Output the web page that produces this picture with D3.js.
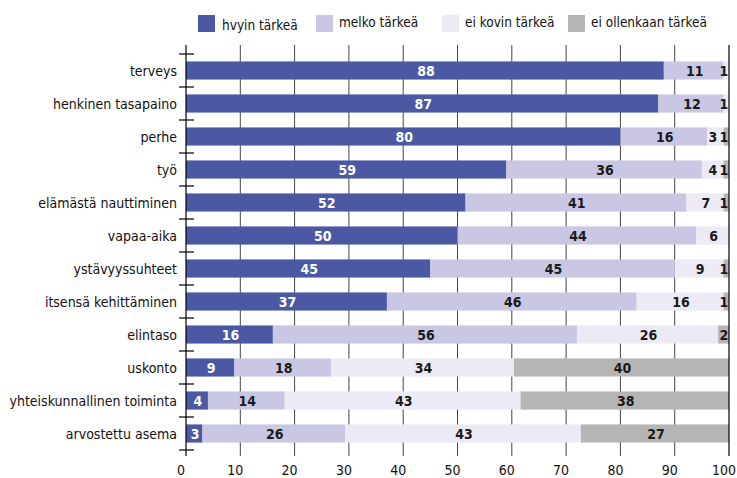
<!DOCTYPE html>
<html>
<head>
<meta charset="utf-8">
<script src="https://cdn.jsdelivr.net/npm/d3@7"></script>
<style>
  body { margin: 0; background: #fff; }
  text { font-family: "Liberation Sans Narrow", "Arial Narrow", "DejaVu Sans Condensed", sans-serif; }
</style>
</head>
<body>
<div id="myChart"></div>
<script>
// data
var categories = ["terveys", "henkinen tasapaino", "perhe", "työ", "elämästä nauttiminen",
  "vapaa-aika", "ystävyyssuhteet", "itsensä kehittäminen", "elintaso", "uskonto",
  "yhteiskunnallinen toiminta", "arvostettu asema"];
var seriesNames = ["hvyin tärkeä", "melko tärkeä", "ei kovin tärkeä", "ei ollenkaan tärkeä"];
var hvyin  = [88, 87, 80, 59, 52, 50, 45, 37, 16, 9, 4, 3];
var melko  = [11, 12, 16, 36, 41, 44, 45, 46, 56, 18, 14, 26];
var eiKovin = [1, 1, 3, 4, 7, 6, 9, 16, 26, 34, 43, 43];
var eiOllenkaan = [0, 0, 1, 1, 1, 0, 1, 1, 2, 40, 38, 27];
var xTicks = [0, 10, 20, 30, 40, 50, 60, 70, 80, 90, 100];
var colors = ["#4b59a4", "#c9c7e4", "#ebeaf5", "#b5b5b5"];

var width = 737, height = 478;
var plotLeft = 186, plotRight = 729, plotTop = 54, plotBottom = 450;

var svg = d3.select("#myChart")
    .append("svg")
    .attr("width", width).attr("height", height);

// rows are shown as shares of 100 %
var x = d3.scaleLinear().domain([0, 1]).range([plotLeft, plotRight]);
var xAxisScale = d3.scaleLinear().domain([0, 100]).range([plotLeft, plotRight]);
var y = d3.scaleBand().domain(categories).range([plotTop, plotBottom]).paddingInner(0.45).paddingOuter(0.225);

var rows = categories.map(function(c, i) {
  return { cat: c, hvyin: hvyin[i], melko: melko[i], eiKovin: eiKovin[i], eiOllenkaan: eiOllenkaan[i] };
});
var keys = ["hvyin", "melko", "eiKovin", "eiOllenkaan"];
var stacked = d3.stack().keys(keys).offset(d3.stackOffsetExpand)(rows);

// gridlines
svg.append("g")
    .selectAll("line")
    .data(xTicks.slice(1, -1))
    .enter().append("line")
    .attr("x1", function(d) { return xAxisScale(d); }).attr("x2", function(d) { return xAxisScale(d); })
    .attr("y1", 45).attr("y2", 456)
    .attr("stroke", "#444").attr("stroke-width", 1);

// bars
var layers = svg.append("g")
    .selectAll("g")
    .data(stacked)
    .enter().append("g")
    .attr("fill", function(d, i) { return colors[i]; });

layers.selectAll("rect")
    .data(function(d) { return d; })
    .enter().append("rect")
    .attr("x", function(d) { return x(d[0]); })
    .attr("width", function(d) { return x(d[1]) - x(d[0]); })
    .attr("y", function(d) { return y(d.data.cat); })
    .attr("height", y.bandwidth());

// value labels, placed right to left so small ones don't collide
var labels = [];
categories.forEach(function(c, ri) {
  var nextX = plotRight + 6;
  for (var li = keys.length - 1; li >= 0; li--) {
    var d = stacked[li][ri];
    var v = d.data[keys[li]];
    if (v <= 0) continue;
    var cx = Math.min((x(d[0]) + x(d[1])) / 2 + 1, nextX - 11);
    labels.push({ cat: c, value: v, layer: li, x: cx });
    nextX = cx;
  }
});

svg.append("g")
    .selectAll("text")
    .data(labels)
    .enter().append("text")
    .attr("x", function(d) { return d.x; })
    .attr("y", function(d) { return y(d.cat) + y.bandwidth() / 2 + 5; })
    .attr("text-anchor", "middle")
    .attr("font-size", 14).attr("font-weight", "bold")
    .attr("fill", function(d) { return d.layer == 0 ? "#fff" : "#1a1a1a"; })
    .text(function(d) { return d.value; });

// right border
svg.append("line")
    .attr("x1", plotRight).attr("x2", plotRight).attr("y1", 45).attr("y2", 456)
    .attr("stroke", "#000").attr("stroke-width", 1.2);

// left axis
svg.append("line")
    .attr("x1", plotLeft).attr("x2", plotLeft).attr("y1", 45).attr("y2", 456)
    .attr("stroke", "#000").attr("stroke-width", 1.2);

var boundaries = d3.range(categories.length + 1).map(function(i) { return plotTop + i * y.step(); });
svg.append("g")
    .selectAll("line")
    .data(boundaries)
    .enter().append("line")
    .attr("x1", plotLeft - 7).attr("x2", plotLeft + 8)
    .attr("y1", function(d) { return d; }).attr("y2", function(d) { return d; })
    .attr("stroke", "#000").attr("stroke-width", 1.2);

// category labels
svg.append("g")
    .selectAll("text")
    .data(categories)
    .enter().append("text")
    .attr("x", plotLeft - 9)
    .attr("y", function(d) { return y(d) + y.bandwidth() / 2 + 5; })
    .attr("text-anchor", "end")
    .attr("font-size", 14).attr("fill", "#111")
    .text(function(d) { return d; });

// x tick labels
svg.append("g")
    .selectAll("text")
    .data(xTicks)
    .enter().append("text")
    .attr("x", function(d) { return xAxisScale(d) - 5; })
    .attr("y", 475)
    .attr("text-anchor", "middle")
    .attr("font-size", 14).attr("fill", "#111")
    .text(function(d) { return d; });

// legend
var legendX = [198, 316, 442, 568];
var legend = svg.append("g")
    .selectAll("g")
    .data(seriesNames)
    .enter().append("g")
    .attr("transform", function(d, i) { return "translate(" + legendX[i] + ", 15)"; });
legend.append("rect")
    .attr("width", 17).attr("height", 17)
    .attr("fill", function(d, i) { return colors[i]; });
legend.append("text")
    .attr("x", function(d, i) { return i == 0 ? 24 : 23; })
    .attr("y", function(d, i) { return i == 0 ? 15 : 12; })
    .attr("font-size", 13.5).attr("fill", "#111")
    .text(function(d) { return d; });
</script>
</body>
</html>
